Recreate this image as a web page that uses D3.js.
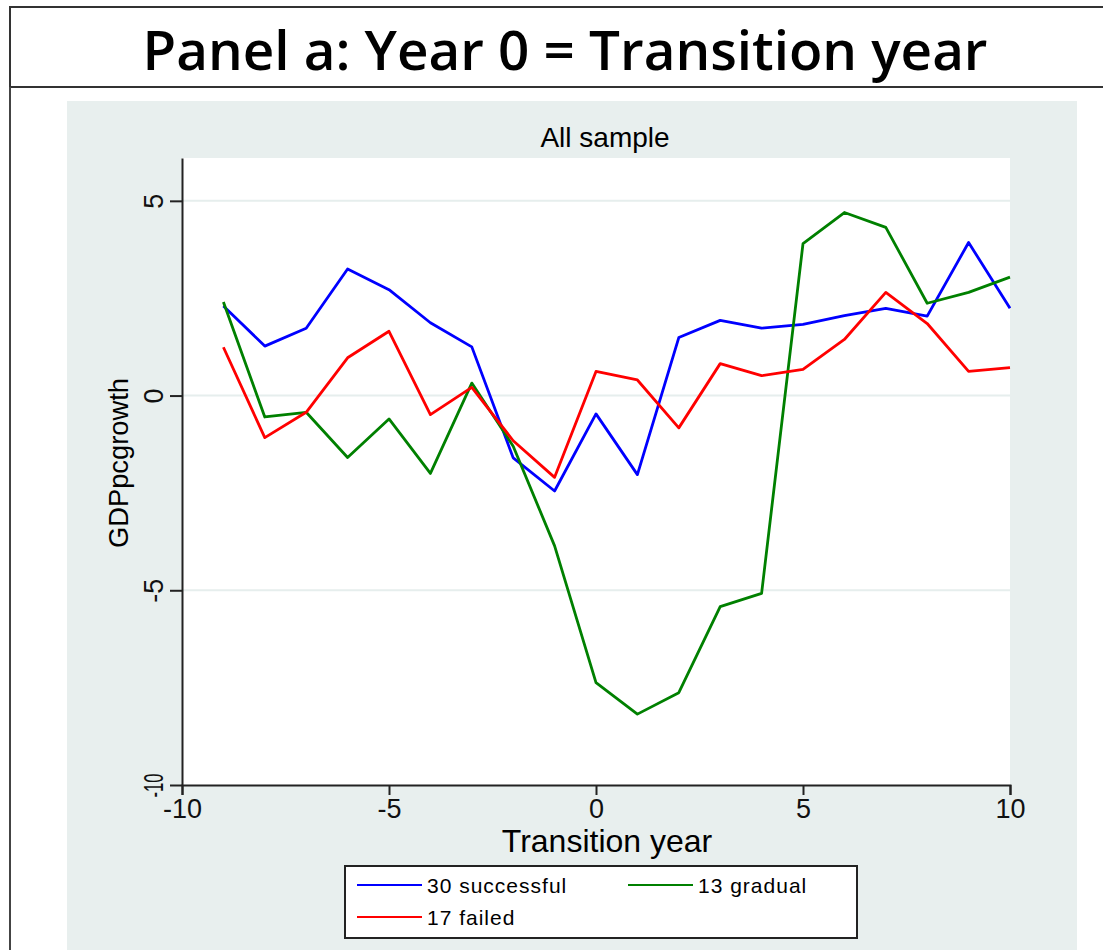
<!DOCTYPE html>
<html>
<head>
<meta charset="utf-8">
<script src="https://cdn.jsdelivr.net/npm/d3@7"></script>
<style>
  body { margin: 0; background: #fff; }
  text { font-family: "Liberation Sans", Arial, sans-serif; }
</style>
</head>
<body>
<script>
// data
let years = [-9, -8, -7, -6, -5, -4, -3, -2, -1, 0, 1, 2, 3, 4, 5, 6, 7, 8, 9, 10];
let successful = [2.3, 1.27, 1.73, 3.25, 2.72, 1.87, 1.25, -1.6, -2.45, -0.47, -2.03, 1.49, 1.93, 1.73, 1.83, 2.05, 2.24, 2.04, 3.93, 2.24];
let gradual = [2.4, -0.55, -0.43, -1.59, -0.6, -2.0, 0.32, -1.3, -3.86, -7.37, -8.18, -7.63, -5.42, -5.08, 3.9, 4.7, 4.32, 2.37, 2.65, 3.04];
let failed = [1.24, -1.08, -0.43, 0.97, 1.65, -0.49, 0.21, -1.16, -2.1, 0.62, 0.4, -0.83, 0.82, 0.51, 0.67, 1.44, 2.65, 1.85, 0.62, 0.72];
let xTicks = [-10, -5, 0, 5, 10];
let yTicks = [-10, -5, 0, 5];
let yGrid = [-5, 0, 5];
let seriesNames = ['30 successful', '13 gradual', '17 failed'];
let seriesColors = ['#0000ff', '#008000', '#ff0000'];

let width = 1103, height = 950;
let margin = { top: 158, bottom: 165, left: 182, right: 93 };
let bg = '#e8efee';

let svg = d3.select('body')
            .append('svg')
            .attr('width', width)
            .attr('height', height)

// title box
svg.append('rect')
  .attr('x', 10).attr('y', 7)
  .attr('width', width + 20).attr('height', 80)
  .attr('fill', '#fff').attr('stroke', '#333').attr('stroke-width', 2)
svg.append('line')
  .attr('x1', 10).attr('x2', 10).attr('y1', 87).attr('y2', height)
  .attr('stroke', '#444').attr('stroke-width', 2)

svg.append('text')
  .attr('x', 565).attr('y', 70)
  .attr('text-anchor', 'middle')
  .style('font-family', '"Open Sans", Lato, sans-serif')
  .style('font-weight', 600)
  .style('font-size', '54px')
  .attr('textLength', 845)
  .attr('lengthAdjust', 'spacingAndGlyphs')
  .text('Panel a: Year 0 = Transition year')

// graph region background
svg.append('rect')
  .attr('x', 67).attr('y', 101)
  .attr('width', 1010).attr('height', height - 101)
  .attr('fill', bg)

let xScale = d3.scaleLinear()
              .domain([-10, 10])
              .range([margin.left, width - margin.right])

let yScale = d3.scaleLinear()
              .domain([-10, 6.1])
              .range([height - margin.bottom, margin.top])

// plot area
svg.append('rect')
  .attr('x', xScale(-10)).attr('y', yScale(6.1))
  .attr('width', xScale(10) - xScale(-10))
  .attr('height', yScale(-10) - yScale(6.1))
  .attr('fill', '#fff')

svg.append('text')
  .attr('x', 605).attr('y', 147)
  .attr('text-anchor', 'middle')
  .style('font-size', '28px')
  .text('All sample')

// gridlines
svg.selectAll('.grid')
  .data(yGrid)
  .enter()
  .append('line')
  .attr('x1', xScale(-10)).attr('x2', xScale(10))
  .attr('y1', d => yScale(d)).attr('y2', d => yScale(d))
  .attr('stroke', '#e6eeed').attr('stroke-width', 2)

// axes
let xAxis = svg.append('g')
              .attr('transform', `translate(0, ${yScale(-10)})`)
              .call(d3.axisBottom(xScale).tickValues(xTicks).tickSize(10).tickPadding(4).tickFormat(d3.format('d')))
xAxis.select('.domain').attr('stroke', '#222').attr('stroke-width', 2)
xAxis.selectAll('.tick line').attr('stroke', '#222').attr('stroke-width', 2)
xAxis.selectAll('.tick text')
  .style('font-size', '27px')
  .style('font-family', '"Liberation Sans", Arial, sans-serif')
  .attr('fill', '#111')
  .text(d => d < 0 ? '-' + Math.abs(d) : d)

let yAxis = svg.append('g')
              .attr('transform', `translate(${xScale(-10)}, 0)`)
              .call(d3.axisLeft(yScale).tickValues(yTicks).tickSize(12).tickSizeOuter(0).tickFormat(d => d < 0 ? '-' + Math.abs(d) : d))
yAxis.select('.domain').attr('stroke', '#222').attr('stroke-width', 2)
yAxis.selectAll('.tick line').attr('stroke', '#222').attr('stroke-width', 2)
yAxis.selectAll('.tick text')
  .style('font-size', '27px')
  .style('font-family', '"Liberation Sans", Arial, sans-serif')
  .attr('fill', '#111')
  .attr('x', 0).attr('dy', 0)
  .attr('text-anchor', 'middle')
  .attr('transform', 'translate(-19, 0) rotate(-90)')
  .attr('textLength', d => d == -10 ? 24 : null)
  .attr('lengthAdjust', 'spacingAndGlyphs')

// axis titles
svg.append('text')
  .attr('x', 607).attr('y', 852)
  .attr('text-anchor', 'middle')
  .style('font-size', '32px')
  .text('Transition year')

svg.append('text')
  .attr('transform', `translate(128, 463) rotate(-90)`)
  .attr('text-anchor', 'middle')
  .style('font-size', '27px')
  .attr('textLength', 170)
  .attr('lengthAdjust', 'spacingAndGlyphs')
  .text('GDPpcgrowth')

// lines
let line = d3.line()
            .x((d, i) => xScale(years[i]))
            .y(d => yScale(d))

let allSeries = [successful, gradual, failed]
svg.selectAll('.series')
  .data(allSeries)
  .enter()
  .append('path')
  .attr('d', line)
  .attr('fill', 'none')
  .attr('stroke', (d, i) => seriesColors[i])
  .attr('stroke-width', 2.8)
  .attr('stroke-linejoin', 'round')

// legend
svg.append('rect')
  .attr('x', 345).attr('y', 866)
  .attr('width', 512).attr('height', 72)
  .attr('fill', '#fff').attr('stroke', '#222').attr('stroke-width', 2)

let legendPos = [[357, 885], [628, 885], [357, 917]]
let leg = svg.selectAll('.leg')
  .data(seriesNames)
  .enter()
  .append('g')
  .attr('transform', (d, i) => `translate(${legendPos[i][0]}, ${legendPos[i][1]})`)
leg.append('line')
  .attr('x1', 0).attr('x2', 65)
  .attr('stroke', (d, i) => seriesColors[i])
  .attr('stroke-width', 2)
leg.append('text')
  .attr('x', 70).attr('y', 8)
  .style('font-size', '21px')
  .style('letter-spacing', '1px')
  .text(d => d)
</script>
</body>
</html>
